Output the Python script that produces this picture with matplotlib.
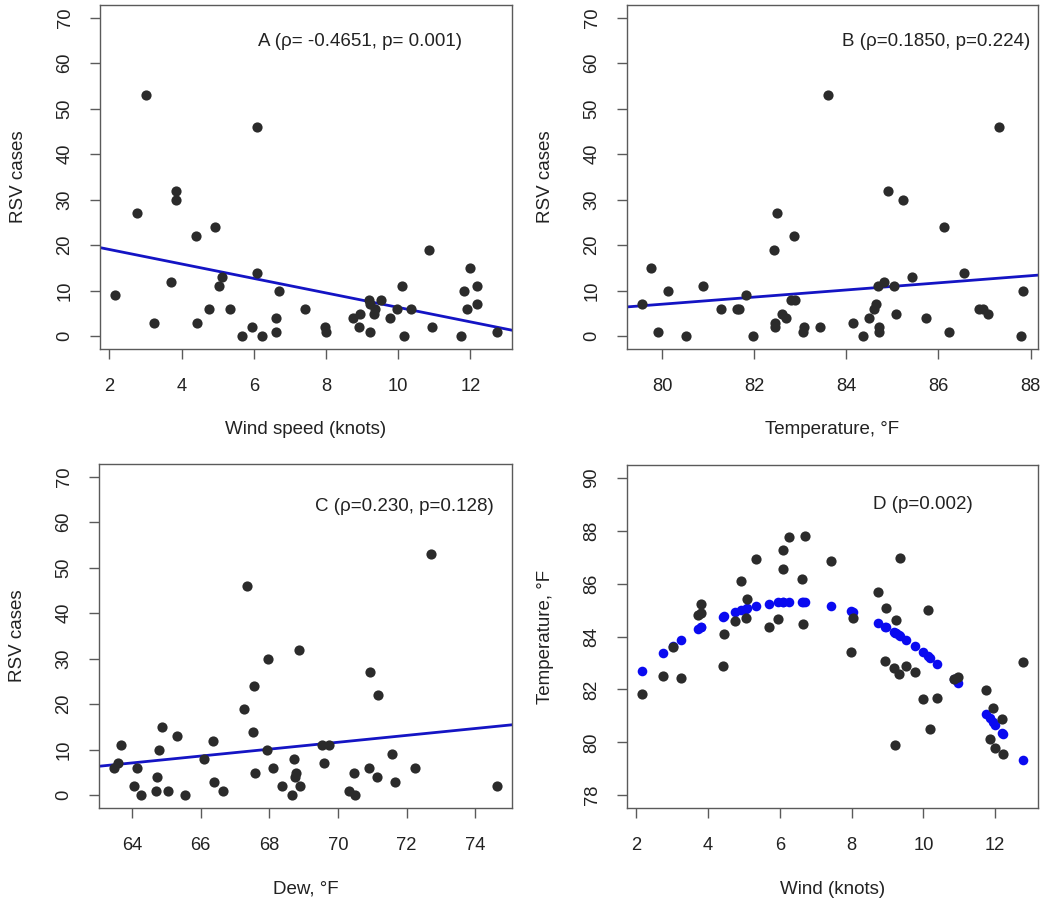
import numpy as np
import matplotlib
matplotlib.use("Agg")
import matplotlib.pyplot as plt

plt.rcParams['font.family'] = ['Liberation Sans', 'DejaVu Sans']

# ---------------- data ----------------
# Panel A: wind speed (knots) vs RSV cases
wind_a = [2.16, 2.75, 3.01, 3.24, 3.71, 3.83, 3.83, 4.40, 4.42, 4.75, 4.91, 5.04,
          5.11, 5.33, 5.68, 5.94, 6.09, 6.10, 6.23, 6.60, 6.62, 6.70, 7.43, 7.98,
          8.00, 8.75, 8.91, 8.94, 9.18, 9.21, 9.23, 9.32, 9.35, 9.52, 9.76, 9.97,
          10.11, 10.16, 10.35, 10.84, 10.94, 11.75, 11.82, 11.91, 12.00, 12.18,
          12.19, 12.73]
rsv_a = [9, 27, 53, 3, 12, 32, 30, 22, 3, 6, 24, 11,
         13, 6, 0, 2, 46, 14, 0, 1, 4, 10, 6, 2,
         1, 4, 2, 5, 8, 1, 7, 5, 6, 8, 4, 6,
         11, 0, 6, 19, 2, 0, 10, 6, 15, 11,
         7, 1]

# Panel B: temperature (F) vs RSV cases
temp_b = [79.57, 79.77, 79.91, 80.14, 80.51, 80.89, 81.28, 81.62, 81.68, 81.82,
          81.97, 82.43, 82.45, 82.45, 82.50, 82.61, 82.68, 82.79, 82.88, 82.87,
          83.05, 83.08, 83.42, 83.60, 84.14, 84.37, 84.49, 84.60, 84.65, 84.69,
          84.70, 84.71, 84.82, 84.91, 85.03, 85.07, 85.23, 85.43, 85.73, 86.11,
          86.22, 86.56, 86.88, 86.97, 87.08, 87.31, 87.79, 87.83]
rsv_b = [7, 15, 1, 10, 0, 11, 6, 6, 6, 9,
         0, 19, 3, 2, 27, 5, 4, 8, 8, 22,
         1, 2, 2, 53, 3, 0, 4, 6, 7, 11,
         2, 1, 12, 32, 11, 5, 30, 13, 4, 24,
         1, 14, 6, 6, 5, 46, 0, 10]

# Panel C: dew point (F) vs RSV cases
dew_c = [63.48, 63.60, 63.69, 64.05, 64.15, 64.25, 64.71, 64.73, 64.77, 64.88,
         65.04, 65.30, 65.54, 66.10, 66.36, 66.39, 66.65, 67.26, 67.34, 67.51,
         67.54, 67.58, 67.97, 67.94, 68.12, 68.37, 68.65, 68.73, 68.74, 68.78,
         68.88, 68.89, 69.54, 69.60, 69.75, 70.32, 70.46, 70.50, 70.90, 70.94,
         71.14, 71.18, 71.59, 71.67, 72.24, 72.72, 74.63]
rsv_c = [6, 7, 11, 2, 6, 0, 1, 4, 10, 15,
         1, 13, 0, 8, 12, 3, 1, 19, 46, 14,
         24, 5, 30, 10, 6, 2, 0, 8, 4, 5,
         32, 2, 11, 7, 11, 1, 5, 0, 6, 27,
         4, 22, 9, 3, 6, 53, 2]

# Panel D: wind (knots) vs temperature (F)
wind_d = [2.17, 2.76, 3.02, 3.25, 3.72, 3.82, 3.82, 4.43, 4.44, 4.76, 4.92, 5.06,
          5.10, 5.35, 5.69, 5.95, 6.10, 6.10, 6.25, 6.62, 6.64, 6.71, 7.44, 8.03,
          7.98, 8.75, 8.93, 8.96, 9.19, 9.22, 9.24, 9.31, 9.35, 9.53, 9.78, 9.99,
          10.13, 10.18, 10.39, 10.85, 10.96, 11.75, 11.85, 11.94, 12.01, 12.20,
          12.21, 12.77]
temp_d = [81.82, 82.49, 83.60, 82.45, 84.81, 85.23, 84.89, 82.87, 84.11, 84.58,
          86.10, 84.69, 85.42, 86.94, 84.35, 84.68, 87.27, 86.55, 87.77, 86.19,
          84.48, 87.80, 86.87, 84.69, 83.41, 85.70, 83.09, 85.06, 82.82, 79.89,
          84.64, 82.59, 86.97, 82.88, 82.67, 81.64, 85.01, 80.50, 81.69, 82.39,
          82.47, 81.96, 80.13, 81.30, 79.77, 80.89, 79.57, 83.04]

panel_texts = ["A (ρ= -0.4651, p= 0.001)", "B (ρ=0.1850, p=0.224)",
               "C (ρ=0.230, p=0.128)", "D (p=0.002)"]
xlabels = ["Wind speed (knots)", "Temperature, °F", "Dew, °F", "Wind (knots)"]
ylabels = ["RSV cases", "RSV cases", "RSV cases", "Temperature, °F"]

# ---------------- style ----------------
W, H = 1045, 902
fig = plt.figure(figsize=(W / 100, H / 100), dpi=100)
pt_col = '#2b2b2b'
line_col = '#1414c4'
fit_col = '#0a0af0'
frame_col = '#5a5a5a'
fs_tick = 13.2
fs_lab = 13.5


def make_ax(l, t, r, b):
    return fig.add_axes([l / W, 1 - b / H, (r - l) / W, (b - t) / H])


def r_range(vals):
    lo, hi = min(vals), max(vals)
    d = (hi - lo) * 0.04
    return lo - d, hi + d


def style(ax, xticks, yticks, xlabel, ylabel):
    for s in ax.spines.values():
        s.set_color(frame_col)
        s.set_linewidth(1.0)
    ax.set_xticks(xticks)
    ax.set_yticks(yticks)
    ax.tick_params(axis='both', direction='out', length=7, width=1.0,
                   color=frame_col, labelcolor='#222222', labelsize=fs_tick)
    ax.tick_params(axis='x', pad=14)
    ax.tick_params(axis='y', pad=12)
    for lab in ax.get_yticklabels():
        lab.set_rotation(90)
        lab.set_va('center')
    ax.set_xlabel(xlabel, fontsize=fs_lab, color='#222222', va='center')
    ax.set_ylabel(ylabel, fontsize=fs_lab, color='#222222', va='center', ha='center')
    bb = ax.get_position()
    wpx = bb.width * W
    hpx = bb.height * H
    ax.xaxis.set_label_coords(0.5, -81 / hpx)
    ax.yaxis.set_label_coords(-81 / wpx, 0.5)


boxes = [(100, 5, 512, 349), (627, 5, 1038, 349),
         (99, 464, 512, 808), (627, 465, 1038, 808)]

# A, B, C: scatter + linear fit
panels = [(wind_a, rsv_a, [2, 4, 6, 8, 10, 12], (8.95, 64.8)),
          (temp_b, rsv_b, [80, 82, 84, 86, 88], (85.95, 64.8)),
          (dew_c, rsv_c, [64, 66, 68, 70, 72, 74], (71.95, 63.5))]
for i, (x, y, xt, tpos) in enumerate(panels):
    ax = make_ax(*boxes[i])
    xl = r_range(x)
    ax.set_xlim(*xl)
    ax.set_ylim(-2.8, 72.8)
    ax.scatter(x, y, s=54, color=pt_col, linewidths=0, zorder=3)
    k, c0 = np.polyfit(x, y, 1)
    xs = np.array(xl)
    ax.plot(xs, c0 + k * xs, color=line_col, lw=2.0, zorder=2)
    ax.text(tpos[0], tpos[1], panel_texts[i], ha='center', va='center',
            fontsize=fs_lab, color='#222222')
    style(ax, xt, list(range(0, 71, 10)), xlabels[i], ylabels[i])

# D: scatter + quadratic fitted values
ax = make_ax(*boxes[3])
ax.set_xlim(*r_range(wind_d))
ax.set_ylim(77.52, 90.48)
q = np.polyfit(wind_d, temp_d, 2)
fitted = np.polyval(q, wind_d)
ax.scatter(wind_d, fitted, s=48, color=fit_col, linewidths=0, zorder=3)
ax.scatter(wind_d, temp_d, s=54, color=pt_col, linewidths=0, zorder=4)
ax.text(10, 89, panel_texts[3], ha='center', va='center', fontsize=fs_lab,
        color='#222222')
style(ax, [2, 4, 6, 8, 10, 12], list(range(78, 91, 2)), xlabels[3], ylabels[3])

fig.savefig('out.png', dpi=100, facecolor='white')
